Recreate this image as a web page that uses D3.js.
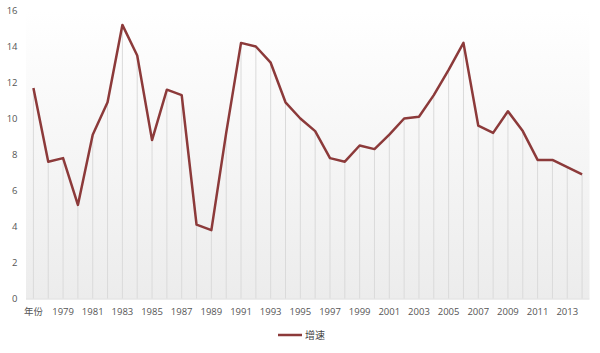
<!DOCTYPE html>
<html>
<head>
<meta charset="utf-8">
<script src="https://cdn.jsdelivr.net/npm/d3@7/dist/d3.min.js"></script>
<style>
  body { margin: 0; background: #fff; }
  text { font-family: "Open Sans", "Noto Sans CJK SC", sans-serif; }
</style>
</head>
<body>
<div id="chart"></div>
<script>
// categories as they appear on the axis (header cell got shifted in)
const categories = ['年份'].concat(d3.range(1978, 2015).map(String));
const growth = [
  11.7, 7.6, 7.8, 5.2, 9.1, 10.9, 15.2, 13.5, 8.8, 11.6,
  11.3, 4.1, 3.8, 9.2, 14.2, 14.0, 13.1, 10.9, 10.0, 9.3,
  7.8, 7.6, 8.5, 8.3, 9.1, 10.0, 10.1, 11.3, 12.7, 14.2,
  9.6, 9.2, 10.4, 9.3, 7.7, 7.7, 7.3, 6.9,
];
const yTicks = [0, 2, 4, 6, 8, 10, 12, 14, 16];
const seriesName = '增速';

const size = { width: 600, height: 353 };
const margin = { top: 10.5, right: 10.5, bottom: 54.5, left: 26 };
const lineColor = '#8c3a3a';

const data = categories.map((c, i) => ({ cat: c, value: growth[i] }));

const svg = d3
  .select('#chart')
  .append('svg')
  .attr('width', size.width)
  .attr('height', size.height);

const x = d3
  .scaleBand()
  .domain(categories)
  .range([margin.left, size.width - margin.right]);

const y = d3
  .scaleLinear()
  .domain([0, 16])
  .range([size.height - margin.bottom, margin.top]);

const cx = (d) => x(d.cat) + x.bandwidth() / 2;

// plot background gradient
const grad = svg
  .append('defs')
  .append('linearGradient')
  .attr('id', 'bg-grad')
  .attr('x1', 0)
  .attr('y1', 0)
  .attr('x2', 0)
  .attr('y2', 1);
grad.append('stop').attr('offset', '0%').attr('stop-color', '#ffffff');
grad.append('stop').attr('offset', '100%').attr('stop-color', '#ececec');

svg
  .append('rect')
  .attr('x', margin.left)
  .attr('y', y(16))
  .attr('width', x.range()[1] - margin.left)
  .attr('height', y(0) - y(16))
  .attr('fill', 'url(#bg-grad)');

// drop lines from each point to the baseline
svg
  .selectAll('.drop')
  .data(data)
  .enter()
  .append('line')
  .attr('x1', (d) => cx(d))
  .attr('x2', (d) => cx(d))
  .attr('y1', (d) => y(d.value))
  .attr('y2', y(0))
  .attr('stroke', '#dadada')
  .attr('stroke-width', 1);

// baseline
svg
  .append('line')
  .attr('x1', margin.left)
  .attr('x2', x.range()[1])
  .attr('y1', y(0) + 0.5)
  .attr('y2', y(0) + 0.5)
  .attr('stroke', '#d9d9d9');

// y labels
svg
  .selectAll('.ylab')
  .data(yTicks)
  .enter()
  .append('text')
  .attr('x', 17.5)
  .attr('y', (d) => y(d))
  .attr('dy', '0.35em')
  .attr('text-anchor', 'end')
  .attr('fill', '#555')
  .style('font-size', '9.5px')
  .text((d) => d);

// x labels, every other category
svg
  .selectAll('.xlab')
  .data(data.filter((d, i) => i % 2 === 0))
  .enter()
  .append('text')
  .attr('x', (d) => cx(d))
  .attr('y', y(0) + 16.5)
  .attr('text-anchor', 'middle')
  .attr('fill', '#555')
  .style('font-size', '9.5px')
  .text((d) => d.cat);

const line = d3
  .line()
  .x((d) => cx(d))
  .y((d) => y(d.value));

svg
  .append('path')
  .datum(data)
  .attr('d', line)
  .attr('fill', 'none')
  .attr('stroke', lineColor)
  .attr('stroke-width', 2.5)
  .attr('stroke-linejoin', 'round');

// legend
const legend = svg.append('g').attr('transform', 'translate(278, 335)');
legend
  .append('line')
  .attr('x1', 0)
  .attr('x2', 24)
  .attr('stroke', lineColor)
  .attr('stroke-width', 2.5);
legend
  .append('text')
  .attr('x', 27)
  .attr('dy', '0.35em')
  .attr('fill', '#444')
  .style('font-size', '10px')
  .text(seriesName);
</script>
</body>
</html>
